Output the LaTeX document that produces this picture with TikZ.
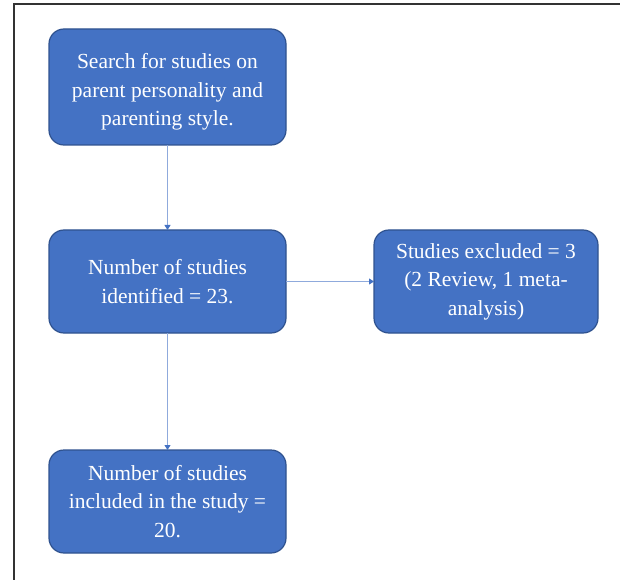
\documentclass[tikz,border=0pt]{standalone}
\usepackage{fontspec}
\setmainfont{Liberation Serif}
\usetikzlibrary{positioning,arrows.meta}
\definecolor{boxfill}{HTML}{4472C4}
\definecolor{boxline}{HTML}{2F528F}
\definecolor{linkblue}{HTML}{8FAADC}
\begin{document}
\begin{tikzpicture}[x=1pt,y=1pt,
  stagebox/.style={rectangle, rounded corners=15pt, draw=boxline, line width=1.2pt,
      fill=boxfill, text=white, minimum width=237pt, minimum height=103pt,
      outer sep=0pt, align=center, font=\fontsize{21.5}{28.5}\selectfont},
  link/.style={draw=linkblue, line width=0.9pt,
      -{Triangle[length=5pt,width=6pt,color=boxfill]}}]
\useasboundingbox (0,0) rectangle (621,-580);
% frame
\draw[line width=1.3pt, black!80] (14,-580) -- (14,-4) -- (620,-4);

\node[stagebox, minimum height=116pt] (search) at (167.5,-87)
{\rule{0pt}{25pt}Search for studies on\\parent personality and\\parenting style.};
\node[stagebox, below=85pt of search] (found)
{Number of studies\\identified = 23.};
\node[stagebox, right=88pt of found, minimum width=224pt] (excluded)
{Studies excluded = 3\\(2 Review, 1 meta-\\analysis)};
\node[stagebox, below=117pt of found] (included)
{Number of studies\\included in the study =\\20.};

\draw[link] (search) -- (found);
\draw[link] (found) -- (excluded);
\draw[link] (found) -- (included);
\end{tikzpicture}
\end{document}
